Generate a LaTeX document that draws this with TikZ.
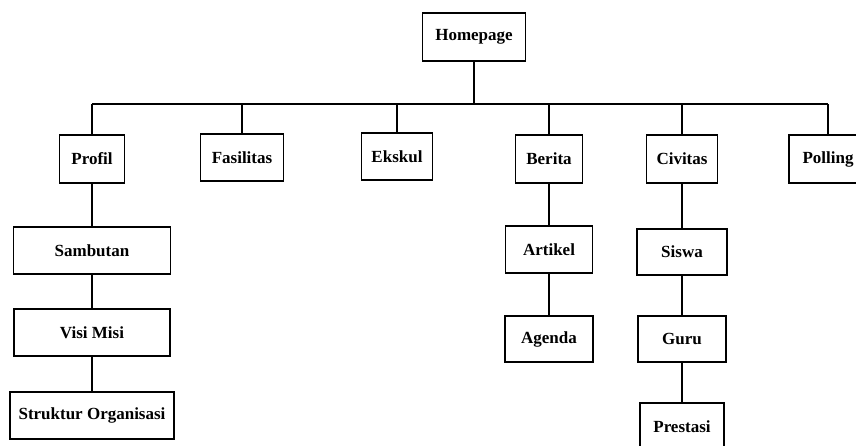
\documentclass[tikz,border=0pt]{standalone}
\usepackage{fontspec}
\setmainfont{Liberation Serif}
\usepackage{tikz}
\usetikzlibrary{positioning,calc}

\tikzset{
	blok/.style={draw=black,line width=1.6pt,fill=white,inner sep=0pt,font=\bfseries\fontsize{17}{20}\selectfont},
	garis/.style={draw=black,line width=1.4pt}
}

\begin{document}
\begin{tikzpicture}[x=1pt,y=-1pt]
	\useasboundingbox (0,0) rectangle (856,446);

	% level 0 dan 1
	\node[blok,minimum width=103,minimum height=48] (home) at (474,37) {Homepage};
	\node[blok,minimum width=65,minimum height=48] (profil) at (92,159) {Profil};
	\node[blok,minimum width=83,minimum height=47] (fasilitas) at (242,157.5) {Fasilitas};
	\node[blok,minimum width=71,minimum height=47] (ekskul) at (397,156.5) {Ekskul};
	\node[blok,minimum width=67,minimum height=48] (berita) at (549,159) {Berita};
	\node[blok,minimum width=71,minimum height=48] (civitas) at (682,159) {Civitas};
	\node[blok,minimum width=78,minimum height=48] (polling) at (828,159) {Polling};

	% level 2
	\node[blok,minimum width=157,minimum height=47] (sambutan) at (92,250.5) {Sambutan};
	\node[blok,minimum width=156,minimum height=47] (visimisi) at (92,332.5) {Visi Misi};
	\node[blok,minimum width=164,minimum height=47] (struktur) at (92,415.5) {Struktur Organisasi};
	\node[blok,minimum width=87,minimum height=47] (artikel) at (549,249.5) {Artikel};
	\node[blok,minimum width=88,minimum height=46] (agenda) at (549,339) {Agenda};
	\node[blok,minimum width=90,minimum height=46] (siswa) at (682,252) {Siswa};
	\node[blok,minimum width=88,minimum height=46] (guru) at (682,339) {Guru};
	\node[blok,minimum width=84,minimum height=47] (prestasi) at (682,426.5) {Prestasi};

	\coordinate (busL) at (92,104);
	\coordinate (busR) at (828,104);
	\draw[garis] (busL) -- (busR);
	\draw[garis] (home.south) -- (home.south |- busL);
	\foreach \n in {profil,fasilitas,ekskul,berita,civitas,polling}
		\draw[garis] (\n.north) -- (\n.north |- busL);

	\draw[garis] (profil) -- (sambutan);
	\draw[garis] (sambutan) -- (visimisi);
	\draw[garis] (visimisi) -- (struktur);
	\draw[garis] (berita) -- (artikel);
	\draw[garis] (artikel) -- (agenda);
	\draw[garis] (civitas) -- (siswa);
	\draw[garis] (siswa) -- (guru);
	\draw[garis] (guru) -- (prestasi);
\end{tikzpicture}
\end{document}
